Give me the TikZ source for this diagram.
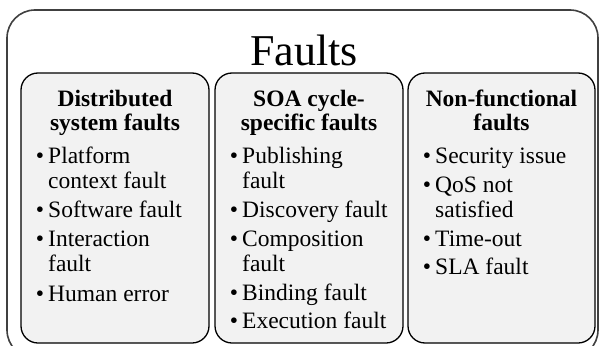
\documentclass[tikz,border=0pt]{standalone}
\usepackage{fontspec}
\setmainfont{Liberation Serif}
\begin{document}
\begin{tikzpicture}[x=1pt,y=-1pt,
  outerbox/.style={draw=black!75, line width=1.6pt, fill=white, rounded corners=28pt},
  group/.style={draw=black, line width=1.3pt, fill=black!5, rounded corners=17pt, inner sep=0pt, minimum height=270pt},
  head/.style={anchor=base, inner sep=0pt, font=\fontsize{23.5}{25}\selectfont\bfseries},
  entry/.style={anchor=base west, inner sep=0pt, font=\fontsize{23.5}{25}\selectfont},
  titlestyle/.style={anchor=base, inner sep=0pt, font=\fontsize{44}{44}\selectfont},
]
\newcommand{\bul}{\llap{\textbullet\hspace{4pt}}}
\useasboundingbox (0,0) rectangle (599,345);
\clip (0,0) rectangle (599,345);
\draw[outerbox] (7,10) rectangle (598,358);
\node[titlestyle] (title) at (304,65) {Faults};

\node[group, minimum width=188pt] (g1) at (115,208) {};
\node[group, minimum width=188pt] (g2) at (309,208) {};
\node[group, minimum width=187pt] (g3) at (501.5,208) {};

% box 1
\node[head] (h1a) at (115,106) {Distributed};
\node[head] (h1b) at (115,130) {system faults};
\node[entry] (e1a) at (48,163) {\bul Platform};
\node[entry] (e1b) at (48,188) {context fault};
\node[entry] (e1c) at (48,217) {\bul Software fault};
\node[entry] (e1d) at (48,246) {\bul Interaction};
\node[entry] (e1e) at (48,271) {fault};
\node[entry] (e1f) at (48,301) {\bul Human error};

% box 2
\node[head] (h2a) at (309,106) {SOA cycle-};
\node[head] (h2b) at (309,130) {specific faults};
\node[entry] (e2a) at (242,163) {\bul Publishing};
\node[entry] (e2b) at (242,188) {fault};
\node[entry] (e2c) at (242,217) {\bul Discovery fault};
\node[entry] (e2d) at (242,246) {\bul Composition};
\node[entry] (e2e) at (242,271) {fault};
\node[entry] (e2f) at (242,300) {\bul Binding fault};
\node[entry] (e2g) at (242,328) {\bul Execution fault};

% box 3
\node[head] (h3a) at (501.5,106) {Non-functional};
\node[head] (h3b) at (501.5,130) {faults};
\node[entry] (e3a) at (435,163) {\bul Security issue};
\node[entry] (e3b) at (435,192) {\bul QoS not};
\node[entry] (e3c) at (435,217) {satisfied};
\node[entry] (e3d) at (435,246) {\bul Time-out};
\node[entry] (e3e) at (435,274) {\bul SLA fault};
\end{tikzpicture}
\end{document}
